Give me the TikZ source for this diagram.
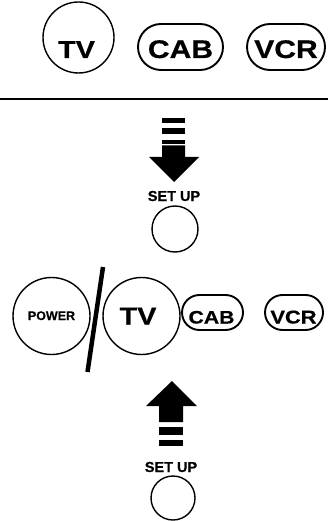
\documentclass[tikz,border=0pt]{standalone}
\usepackage{fontspec}
\newfontfamily\labw{Liberation Sans}[FakeStretch=1.18,FakeBold=0.6]
\newfontfamily\labn{Liberation Sans}[FakeBold=0.4]
\begin{document}
\begin{tikzpicture}[x=1pt,y=-1pt,
  ring/.style={circle,draw,line width=1.4pt,inner sep=0pt},
  pill/.style={rectangle,draw,line width=1.9pt,inner sep=0pt},
  lbl/.style={anchor=base,inner sep=0pt,font=\labw\bfseries\fontsize{#1}{#1}\selectfont},
  slbl/.style={anchor=base,inner sep=0pt,font=\labn\bfseries\fontsize{#1}{#1}\selectfont}]
\useasboundingbox (0,0) rectangle (330,521);
% top row
\node[ring,minimum size=71pt] (tvA) at (78.5,37.5) {};
\node[pill,minimum width=85pt,minimum height=46pt,rounded corners=23pt] (cabA) at (180.5,47) {};
\node[pill,minimum width=78pt,minimum height=46pt,rounded corners=23pt] (vcrA) at (286,47) {};
\node[lbl=24.5] (tvAt) at (76.5,58) {TV};
\node[lbl=25.5] (cabAt) at (180.5,58) {CAB};
\node[lbl=25.5] (vcrAt) at (286,58) {VCR};
% rule
\fill (0,98.3) rectangle (328,100.3);
% down arrow
\fill (162,118) rectangle (185,123);
\fill (162,128) rectangle (185,134.5);
\fill (162,140.5) rectangle (185,144.5);
\fill (162,145.5) -- (185,145.5) -- (185,157) -- (199,157) -- (174,182) -- (149,157) -- (162,157) -- cycle;
\node[slbl=14.5] (setA) at (174,201) {SET UP};
\node[ring,minimum size=46pt] (btnA) at (175,229) {};
% lower row
\node[ring,minimum size=77pt] (pwr) at (51.5,316) {};
\node[slbl=12.5] (pwrt) at (51.5,320) {POWER};
\draw[line width=4.5pt] (103,267) -- (87.5,372);
\node[ring,minimum size=77pt] (tvB) at (141.5,316) {};
\node[pill,minimum width=61pt,minimum height=35pt,rounded corners=17.5pt] (cabB) at (212.5,312.5) {};
\node[pill,minimum width=58pt,minimum height=35pt,rounded corners=17.5pt] (vcrB) at (294,312.5) {};
\node[lbl=24.5] (tvBt) at (138,324.5) {TV};
\node[lbl=18] (cabBt) at (211.5,323.5) {CAB};
\node[lbl=18.5] (vcrBt) at (293.5,323.5) {VCR};
% up arrow
\fill (172,381) -- (197,406) -- (183,406) -- (183,422) -- (159,422) -- (159,406) -- (146,406) -- cycle;
\fill (159,427) rectangle (183,435);
\fill (159,440) rectangle (183,446);
\node[slbl=14.5] (setB) at (171,472) {SET UP};
\node[ring,minimum size=44pt] (btnB) at (173,498) {};
\end{tikzpicture}
\end{document}
